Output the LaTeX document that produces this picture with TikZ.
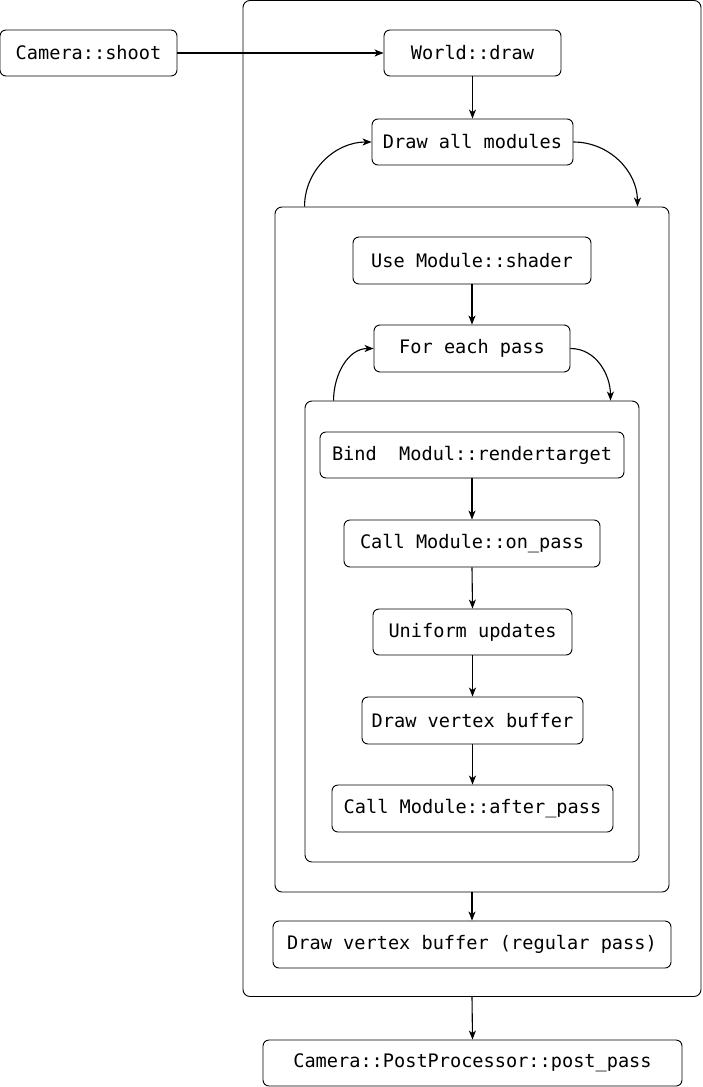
\documentclass[tikz,border=0pt]{standalone}
\usepackage{fontspec}
\setmonofont{DejaVu Sans Mono}
\usetikzlibrary{arrows.meta,calc}
\begin{document}
\begin{tikzpicture}[x=1pt,y=-1pt,
  box/.style={draw, rounded corners=6pt, line width=0.9pt, inner sep=0pt, anchor=center,
    font=\ttfamily\fontsize{18.6}{22}\selectfont},
  cont/.style={draw, rounded corners=7pt, line width=0.9pt, inner sep=0pt, anchor=center},
  arr/.style={-{Stealth[length=9pt,width=7pt,inset=2.5pt]}, line width=1.1pt}]
\useasboundingbox (0,0) rectangle (702,1087);
% containers
\node[cont, minimum width=458pt, minimum height=996pt] (outer) at (472,498.5) {};
\node[cont, minimum width=394pt, minimum height=685pt] (mods) at (472,549.5) {};
\node[cont, minimum width=334pt, minimum height=461pt] (passes) at (472,631.5) {};
% nodes
\node[box, minimum width=177pt, minimum height=46pt] (shoot) at (88.5,53) {Camera::shoot};
\node[box, minimum width=177pt, minimum height=46pt] (world) at (472.5,53) {World::draw};
\node[box, minimum width=201pt, minimum height=46pt] (dam) at (472.5,142) {Draw all modules};
\node[box, minimum width=238pt, minimum height=47pt] (shader) at (472,260.5) {Use Module::shader};
\node[box, minimum width=196pt, minimum height=47pt] (each) at (472,348.5) {For each pass};
\node[box, minimum width=304pt, minimum height=46pt] (bind) at (472,455) {Bind~ Modul::rendertarget};
\node[box, minimum width=256pt, minimum height=47pt] (onpass) at (472,543.5) {Call Module::on\_pass};
\node[box, minimum width=199pt, minimum height=46pt] (uniform) at (472.5,632) {Uniform updates};
\node[box, minimum width=221pt, minimum height=47pt] (dvb) at (472.5,720.5) {Draw vertex buffer};
\node[box, minimum width=281pt, minimum height=47pt] (after) at (472.5,808.5) {Call Module::after\_pass};
\node[box, minimum width=398pt, minimum height=47pt] (regular) at (472,944.5) {Draw vertex buffer (regular pass)};
\node[box, minimum width=419pt, minimum height=46pt] (post) at (472.5,1063) {Camera::PostProcessor::post\_pass};
% straight connectors
\draw[arr] (shoot.east) -- (world.west);
\draw[arr] (world.south) -- (dam.north);
\draw[arr] (shader.south) -- (each.north);
\draw[arr] (bind.south) -- (onpass.north);
\draw[arr] (onpass.south) -- (uniform.north);
\draw[arr] (uniform.south) -- (dvb.north);
\draw[arr] (dvb.south) -- (after.north);
\draw[arr] (mods.south) -- (regular.north);
\draw[arr] (outer.south) -- (post.north);
% loops
\coordinate (m1) at ($(mods.north west)+(30,0)$);
\coordinate (m2) at ($(mods.north east)+(-32,0)$);
\draw[arr] (m1) to[out=90,in=180] (dam.west);
\draw[arr] (dam.east) to[out=0,in=90] (m2);
\coordinate (p1) at ($(passes.north west)+(29,0)$);
\coordinate (p2) at ($(passes.north east)+(-29,0)$);
\draw[arr] (p1) to[out=90,in=180] (each.west);
\draw[arr] (each.east) to[out=0,in=90] (p2);
\end{tikzpicture}
\end{document}
